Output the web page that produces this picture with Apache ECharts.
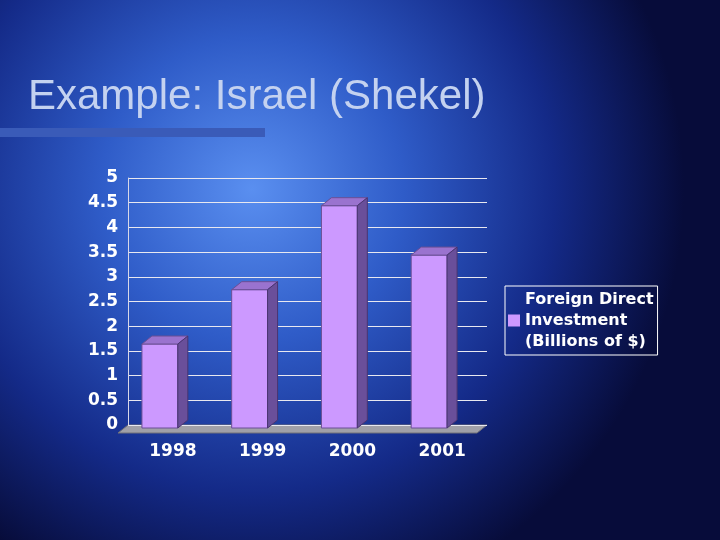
<!DOCTYPE html>
<html>
<head>
<meta charset="utf-8">
<script src="https://cdn.jsdelivr.net/npm/echarts@6/dist/echarts.min.js"></script>
<style>html,body{margin:0;padding:0}#main{width:720px;height:540px}</style>
</head>
<body>
<div id="main"></div>
<script>
var years = ['1998', '1999', '2000', '2001'];
var fdi = [1.7, 2.8, 4.5, 3.5];
var yTicks = [0, 0.5, 1, 1.5, 2, 2.5, 3, 3.5, 4, 4.5, 5];

var chart = echarts.init(document.getElementById('main'));
var dx = 10, dy = -8;

function renderBar(params, api) {
    var i = api.value(0), v = api.value(1);
    var top = api.coord([i, v]);
    var base = api.coord([i, 0]);
    var w = api.size([1, 0])[0] * 0.4;
    var x0 = top[0] - w / 2 - 13, x1 = x0 + w;
    var t = top[1] + 3, b = base[1] + 3;
    return {
        type: 'group',
        children: [
            {type: 'rect', shape: {x: x0, y: t, width: w, height: b - t},
             style: {fill: '#cc99ff', stroke: '#6b4f95', lineWidth: 1}},
            {type: 'polygon', shape: {points: [[x0, t], [x0 + dx, t + dy], [x1 + dx, t + dy], [x1, t]]},
             style: {fill: '#9a73cf', stroke: '#6b4f95', lineWidth: 1}},
            {type: 'polygon', shape: {points: [[x1, t], [x1 + dx, t + dy], [x1 + dx, b + dy], [x1, b]]},
             style: {fill: '#6a4f9a', stroke: '#4a3570', lineWidth: 1}}
        ]
    };
}

chart.setOption({
    backgroundColor: {
        type: 'radial', x: 0.35, y: 0.35, r: 0.8,
        colorStops: [
            {offset: 0, color: '#5a8ff0'},
            {offset: 0.35, color: '#2f5cc8'},
            {offset: 0.7, color: '#142a88'},
            {offset: 1, color: '#070c3a'}
        ]
    },
    graphic: [
        {type: 'text', left: 28, top: 76,
         style: {text: 'Example: Israel (Shekel)', fill: '#c4d2f0', font: '42px "Liberation Sans", sans-serif'}},
        {type: 'rect', shape: {x: 0, y: 128, width: 265, height: 9}, style: {fill: '#3a5bb8'}},
        {type: 'polygon', z: 0, shape: {points: [[118, 433], [128, 425], [487, 425], [477, 433]]},
         style: {fill: '#a0a0a8', stroke: '#707078'}}
    ],
    grid: {left: 128, right: 233, top: 178, bottom: 115},
    legend: {
        data: ['Foreign Direct\nInvestment\n(Billions of $)'],
        left: 505, top: 286, orient: 'vertical',
        itemWidth: 12, itemHeight: 12, itemGap: 4, padding: [3, 4, 3, 3],
        borderColor: '#ffffff', borderWidth: 1,
        textStyle: {color: '#ffffff', fontSize: 16, fontWeight: 'bold', fontFamily: 'DejaVu Sans', lineHeight: 21},
        icon: 'rect'
    },
    xAxis: {
        type: 'category', data: years,
        axisLine: {show: false}, axisTick: {show: false},
        axisLabel: {color: '#ffffff', fontSize: 17, fontWeight: 'bold', fontFamily: 'DejaVu Sans', margin: 18}
    },
    yAxis: {
        type: 'value', min: 0, max: 5, interval: 0.5,
        axisLine: {show: true, lineStyle: {color: '#d8d8e8'}},
        axisTick: {show: false},
        splitLine: {lineStyle: {color: '#e8e8f0', width: 1}},
        axisLabel: {color: '#ffffff', fontSize: 17, fontWeight: 'bold', fontFamily: 'DejaVu Sans', margin: 10,
                    formatter: function (v) { return yTicks.indexOf(v) >= 0 ? String(v) : ''; }}
    },
    series: [{
        name: 'Foreign Direct\nInvestment\n(Billions of $)',
        type: 'custom', renderItem: renderBar,
        itemStyle: {color: '#cc99ff'},
        encode: {x: 0, y: 1},
        data: fdi.map(function (v, i) { return [i, v]; })
    }]
});
</script>
</body>
</html>
